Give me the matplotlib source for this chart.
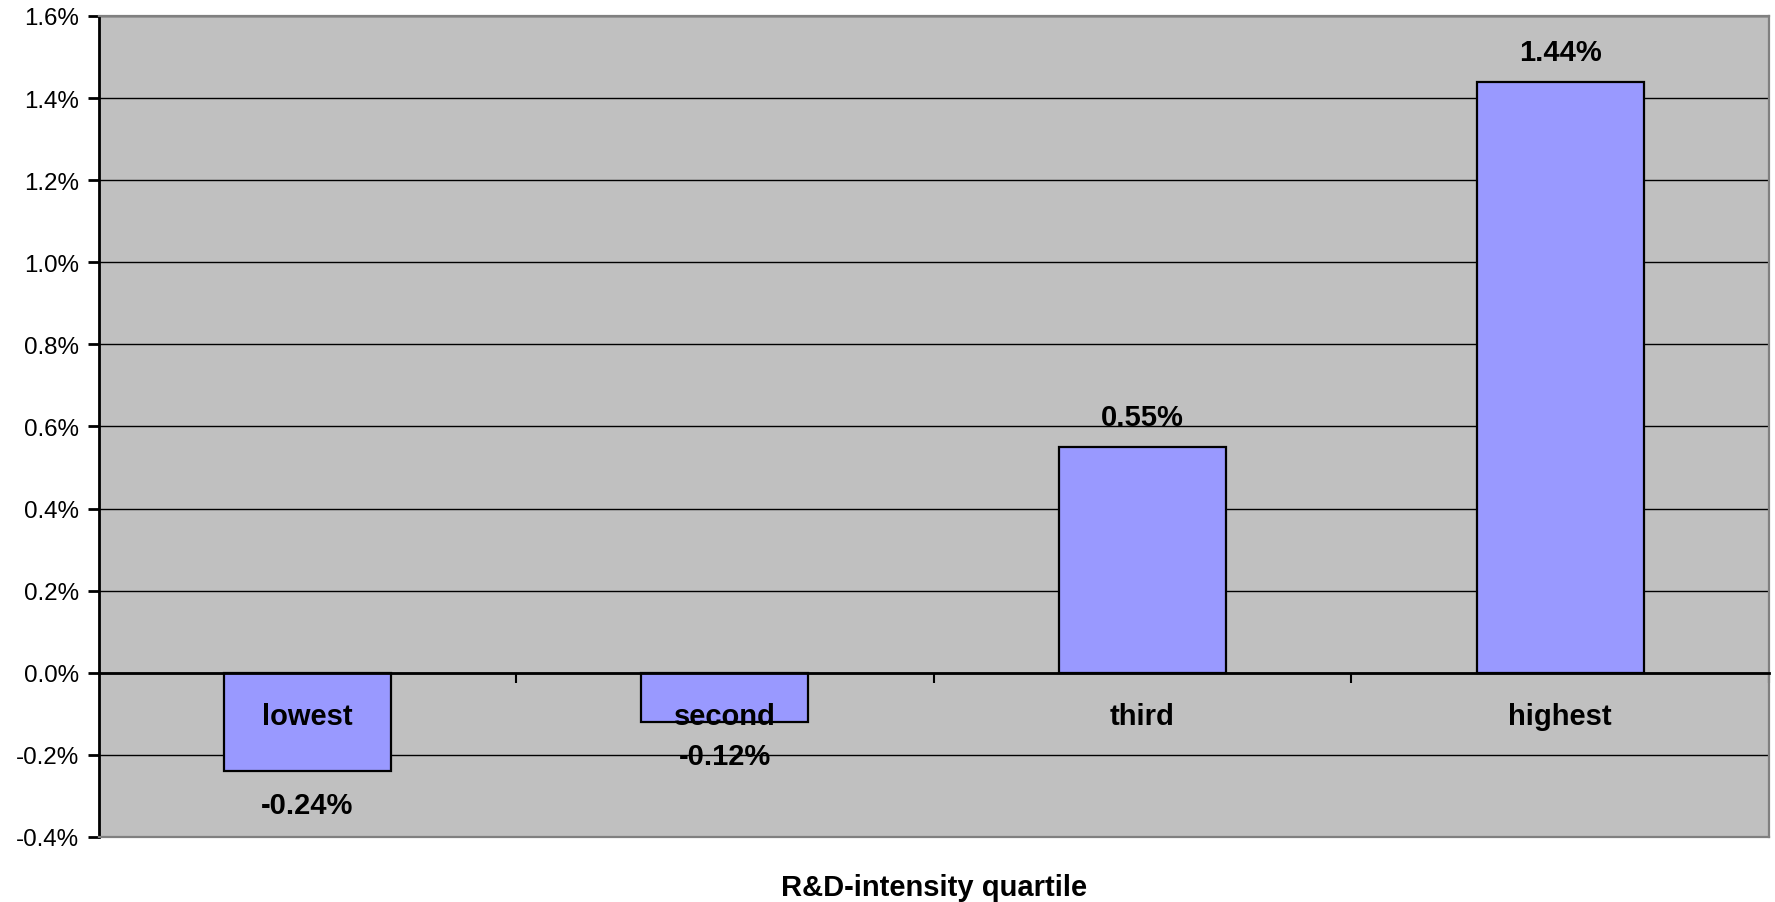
import matplotlib
matplotlib.use('Agg')
import matplotlib.pyplot as plt
from matplotlib.ticker import MultipleLocator, FuncFormatter

plt.rcParams['font.family'] = ['Liberation Sans', 'DejaVu Sans']

# data
quartiles = ['lowest', 'second', 'third', 'highest']
returns = [-0.24, -0.12, 0.55, 1.44]   # in percent
value_labels = ['-0.24%', '-0.12%', '0.55%', '1.44%']
x_title = 'R&D-intensity quartile'

fig = plt.figure(figsize=(17.75, 9.03), dpi=100)
ax = fig.add_axes([98.5 / 1775, 65 / 903, (1769 - 98.5) / 1775, (838 - 17) / 903])
ax.set_facecolor('#C0C0C0')

x = list(range(len(quartiles)))
ax.bar(x, returns, width=0.4, color='#9999FF', edgecolor='black', linewidth=1.6, zorder=3)

ax.set_xlim(-0.5, len(quartiles) - 0.5)
ax.set_ylim(-0.4, 1.6)
ax.yaxis.set_major_locator(MultipleLocator(0.2))
ax.yaxis.set_major_formatter(FuncFormatter(lambda v, p: '{:.1f}%'.format(v)))
ax.grid(axis='y', color='black', linewidth=1.0, zorder=1)
ax.set_axisbelow(True)

# spines: left black, bottom axis at zero, top/right gray
ax.spines['left'].set_color('black')
ax.spines['left'].set_linewidth(2)
ax.spines['bottom'].set_position(('data', 0))
ax.spines['bottom'].set_color('black')
ax.spines['bottom'].set_linewidth(2)
ax.spines['bottom'].set_zorder(4)
for s in ['top', 'right']:
    ax.spines[s].set_color('#808080')
    ax.spines[s].set_linewidth(1.6)
ax.axhline(-0.4, color='#808080', linewidth=1.6, clip_on=False, zorder=5)

ax.tick_params(axis='y', direction='out', length=8, width=2, labelsize=17.4, pad=6)
ax.set_xticks([i + 0.5 for i in x[:-1]] + [len(quartiles) - 0.5])
ax.tick_params(axis='x', direction='out', length=7, width=1.5, labelbottom=False)

# category names below zero line
for i, name in zip(x, quartiles):
    ax.annotate(name, xy=(i, 0), xytext=(0, -31), textcoords='offset points',
                ha='center', va='center', fontsize=21, fontweight='bold', zorder=6)

# value labels
for i, v, lab in zip(x, returns, value_labels):
    off = 21.5 if v > 0 else -24.5
    ax.annotate(lab, xy=(i, v), xytext=(0, off), textcoords='offset points',
                ha='center', va='center', fontsize=21, fontweight='bold', zorder=6)

fig.text((98.5 + 1769) / 2 / 1775, 1 - 888 / 903, x_title, ha='center', va='center',
         fontsize=21, fontweight='bold')

fig.savefig('out.png', dpi=100, facecolor='white')
